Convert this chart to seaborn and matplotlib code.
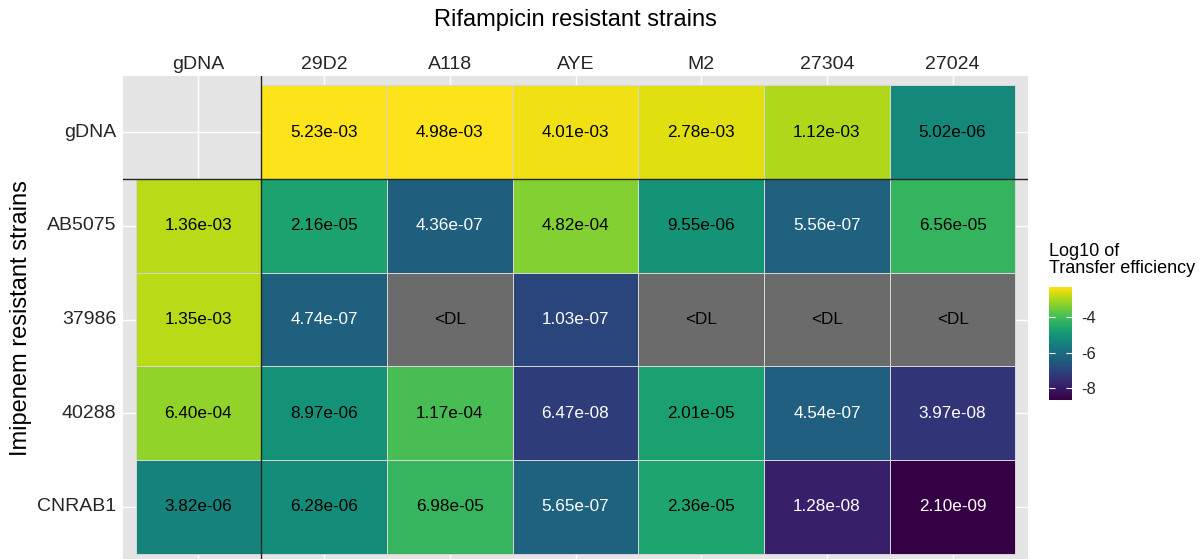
"""
Transfer efficiency heatmap: imipenem resistant x rifampicin resistant strains.
"""
import numpy as np
import pandas as pd
import matplotlib
matplotlib.use("Agg")
import matplotlib.pyplot as plt
from matplotlib.colors import ListedColormap, to_rgba
import seaborn as sns

# %% data
recipients = ["gDNA", "29D2", "A118", "AYE", "M2", "27304", "27024"]
donors = ["gDNA", "AB5075", "37986", "40288", "CNRAB1"]

DL = 0.0  # below detection limit, nan = not tested
row_gDNA = [np.nan, 5.23e-03, 4.98e-03, 4.01e-03, 2.78e-03, 1.12e-03, 5.02e-06]
row_AB5075 = [1.36e-03, 2.16e-05, 4.36e-07, 4.82e-04, 9.55e-06, 5.56e-07, 6.56e-05]
row_37986 = [1.35e-03, 4.74e-07, DL, 1.03e-07, DL, DL, DL]
row_40288 = [6.40e-04, 8.97e-06, 1.17e-04, 6.47e-08, 2.01e-05, 4.54e-07, 3.97e-08]
row_CNRAB1 = [3.82e-06, 6.28e-06, 6.98e-05, 5.65e-07, 2.36e-05, 1.28e-08, 2.10e-09]

eff = pd.DataFrame([row_gDNA, row_AB5075, row_37986, row_40288, row_CNRAB1],
                   index=donors, columns=recipients)

below_dl = eff == DL
missing = eff.isna()
log_eff = np.log10(eff.where(~below_dl & ~missing))

labels = eff.map(lambda v: "" if np.isnan(v) else ("<DL" if v == DL else f"{v:.2e}"))

# the reference render is a bit darker than plain viridis
viridis_dark = ListedColormap(plt.get_cmap("viridis")(np.linspace(0, 1, 256))[:, :3] ** 1.2)

# %% plot
plt.rcParams["font.family"] = ["Liberation Sans", "DejaVu Sans"]

fig = plt.figure(figsize=(12.02, 5.59), dpi=100)
ax = fig.add_axes([123 / 1202, 1 - 563 / 559, 905 / 1202, 487 / 559])
cax = fig.add_axes([1049 / 1202, 1 - 400 / 559, 23 / 1202, 113 / 559])
ax.set_facecolor("#E5E5E5")

# grid at category centres, under the tiles
for j in range(len(recipients)):
    ax.axvline(j + 0.5, color="white", lw=1.0, zorder=0)
for i in range(len(donors)):
    ax.axhline(i + 0.5, color="white", lw=1.0, zorder=0)

# <DL tiles in grey
sns.heatmap(below_dl.astype(float), mask=~below_dl, cmap=ListedColormap(["#6B6B6B"]),
            cbar=False, linewidths=0.6, linecolor="#D5D5D5", ax=ax)

sns.heatmap(log_eff, mask=log_eff.isna(), cmap=viridis_dark,
            vmin=np.nanmin(log_eff.values), vmax=np.nanmax(log_eff.values),
            linewidths=0.6, linecolor="#D5D5D5", ax=ax, cbar_ax=cax,
            cbar_kws={"ticks": [-8, -6, -4]})

# no tile borders where a tile is masked out
for mesh in ax.collections:
    hidden = np.ma.getmaskarray(mesh.get_array()).ravel()
    ec = np.tile(to_rgba("#D5D5D5"), (hidden.size, 1))
    ec[hidden, 3] = 0
    mesh.set_edgecolor(ec)

for i, d in enumerate(donors):
    for j, r in enumerate(recipients):
        txt = labels.loc[d, r]
        if not txt:
            continue
        v = log_eff.loc[d, r]
        col = "white" if (not np.isnan(v) and v < -6) else "black"
        ax.text(j + 0.5, i + 0.5, txt, ha="center", va="center",
                fontsize=12.3, color=col)

ax.axvline(1, color="#262626", lw=1.0)
ax.axhline(1, color="#262626", lw=1.0)

ax.set_xlim(-0.1, len(recipients) + 0.1)
ax.set_ylim(len(donors) + 0.1, -0.1)
ax.xaxis.tick_top()
ax.set_xticks(np.arange(len(recipients)) + 0.5, recipients)
ax.set_yticks(np.arange(len(donors)) + 0.5, donors, rotation=0)
ax.tick_params(length=0, labelsize=14, labelcolor="#262626", pad=5)
ax.tick_params(axis="x", pad=2)
ax.set_xlabel("")
ax.set_ylabel("")
for s in ax.spines.values():
    s.set_visible(False)

fig.text(575 / 1202, 1 - 20 / 559, "Rifampicin resistant strains",
         ha="center", va="center", fontsize=17)
fig.text(21 / 1202, 1 - 318 / 559, "Imipenem resistant strains",
         ha="center", va="center", rotation=90, fontsize=17)

# colour bar
cbar = ax.collections[-1].colorbar
cbar.outline.set_visible(False)
cax.tick_params(length=4, width=0.8, color="white", direction="in",
                labelsize=12, labelcolor="#262626", pad=7, right=True, left=True)
cax.set_yticklabels(["-8", "-6", "-4"])
fig.text(1049 / 1202, 1 - 243 / 559, "Log10 of\nTransfer efficiency",
         ha="left", va="top", fontsize=13, linespacing=1.0)

fig.savefig("out.png", dpi=100)
